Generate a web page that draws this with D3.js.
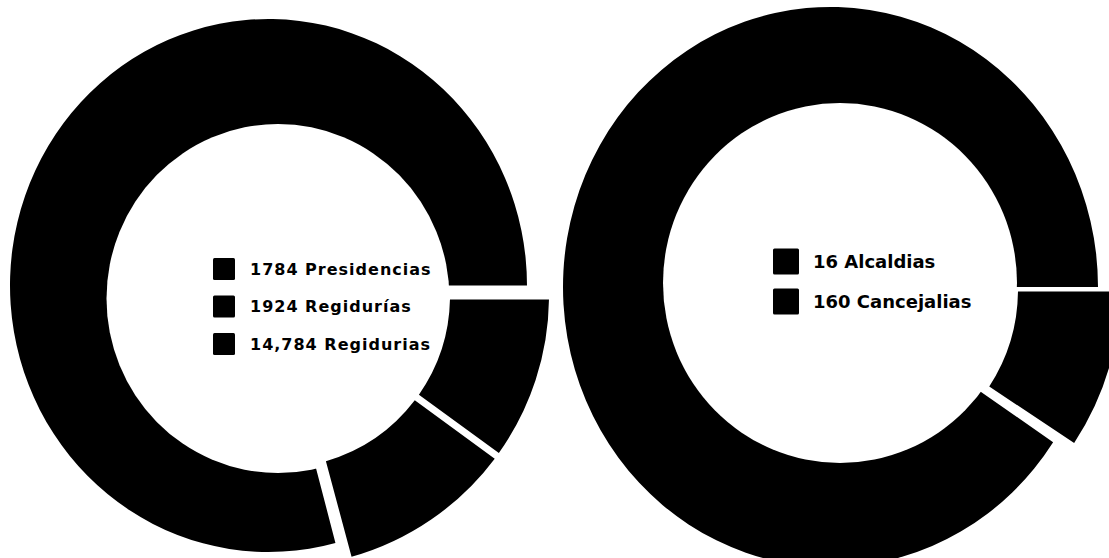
<!DOCTYPE html>
<html>
<head>
<meta charset="utf-8">
<script src="https://cdn.jsdelivr.net/npm/d3@7"></script>
<style>
  html, body { margin: 0; padding: 0; background: #fff; }
  svg { display: block; }
  text { font-family: "DejaVu Sans", sans-serif; font-weight: bold; fill: #000; }
</style>
</head>
<body>
<svg id="chart" width="1109" height="558"></svg>
<script>
// ---- data ----
const leftCategories = ["Presidencias", "Regidurías", "Regidurias"];
const leftValues = [1784, 1924, 14784];
const leftLabels = ["1784 Presidencias", "1924 Regidurías", "14,784 Regidurias"];

const rightCategories = ["Alcaldias", "Cancejalias"];
const rightValues = [16, 160];
const rightLabels = ["16 Alcaldias", "160 Cancejalias"];

// ---- drawing ----
const svg = d3.select("#chart");

function drawDonut(values, labels, cfg) {
  const pie = d3.pie().sort(null)
    .startAngle(Math.PI / 2)
    .endAngle(Math.PI / 2 + 2 * Math.PI)
    .padAngle(cfg.padAngle);
  const arcs = pie(values);
  const mainIdx = values.indexOf(d3.max(values));

  // main (largest) slice
  const gMain = svg.append("g")
    .attr("transform", `translate(${cfg.c1[0]},${cfg.c1[1]}) scale(1,${cfg.sy})`);
  const mainArc = d3.arc()
    .innerRadius(cfg.mainInner)
    .outerRadius(cfg.mainOuter)
    .padAngle(0);
  gMain.append("path")
    .attr("d", mainArc(arcs[mainIdx]))
    .attr("fill", "#000");

  // hole
  svg.append("ellipse")
    .attr("cx", cfg.hole[0]).attr("cy", cfg.hole[1])
    .attr("rx", cfg.holeR[0]).attr("ry", cfg.holeR[1])
    .attr("fill", "#fff");

  // smaller slices, pulled out
  const gSmall = svg.append("g")
    .attr("transform", `translate(${cfg.c2[0]},${cfg.c2[1]})`);
  const smallArc = d3.arc()
    .innerRadius(cfg.smallInner)
    .outerRadius(cfg.smallOuter)
    .padRadius(cfg.padRadius);
  gSmall.selectAll("path")
    .data(arcs.filter((d, i) => i !== mainIdx))
    .join("path")
    .attr("d", smallArc)
    .attr("fill", "#000");

  // legend
  const lg = svg.append("g")
    .attr("transform", `translate(${cfg.legend[0]},${cfg.legend[1]})`);
  const rows = lg.selectAll("g")
    .data(labels)
    .join("g")
    .attr("transform", (d, i) => `translate(0,${i * cfg.rowH})`);
  rows.append("rect")
    .attr("x", 0).attr("y", -cfg.sq / 2)
    .attr("width", cfg.sq).attr("height", cfg.sq)
    .attr("rx", 1.5)
    .attr("fill", "#000");
  rows.append("text")
    .attr("x", cfg.textX)
    .attr("y", cfg.baseline)
    .attr("font-size", cfg.fontSize)
    .attr("letter-spacing", cfg.spacing)
    .text(d => d);
}

drawDonut(leftValues, leftLabels, {
  c1: [268.5, 285.5], sy: 1.031, mainInner: 140, mainOuter: 258.5,
  hole: [278, 298.5], holeR: [171.5, 174.5],
  c2: [278, 296], smallInner: 172, smallOuter: 271,
  padAngle: 0.035, padRadius: 200,
  legend: [213, 269], rowH: 37.5, sq: 22, textX: 37, baseline: 5.8,
  fontSize: 16, spacing: 1
});

drawDonut(rightValues, rightLabels, {
  c1: [830.5, 287], sy: 1.047, mainInner: 140, mainOuter: 267.5,
  hole: [840, 283], holeR: [177, 180],
  c2: [840, 289.5], smallInner: 178, smallOuter: 280,
  padAngle: 0.02, padRadius: 200,
  legend: [773, 261.5], rowH: 40, sq: 26, textX: 40, baseline: 6.5,
  fontSize: 18, spacing: 0
});
</script>
</body>
</html>
